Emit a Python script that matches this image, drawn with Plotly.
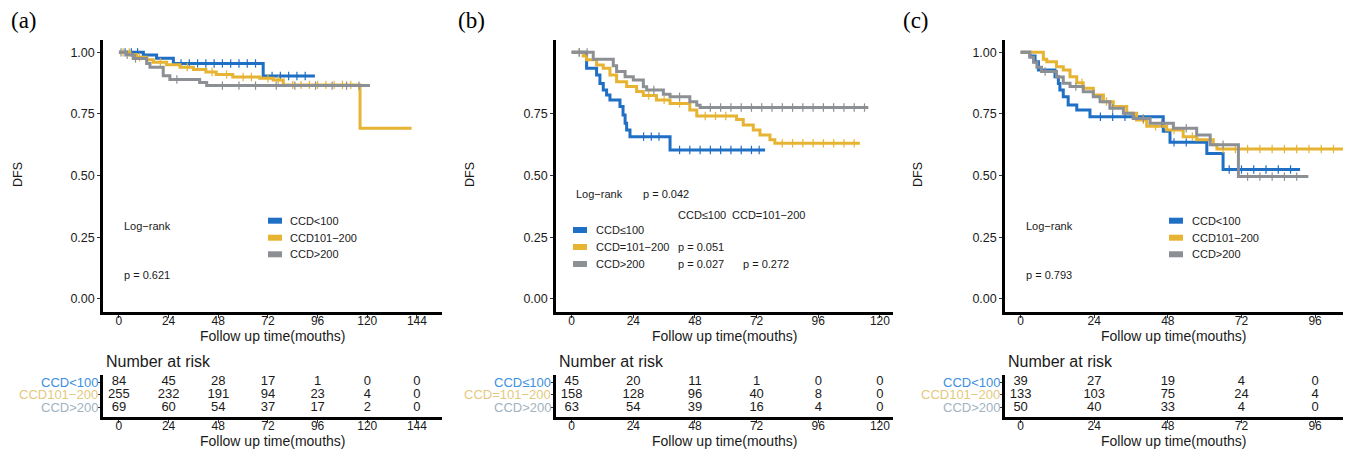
import plotly.graph_objects as go

# ---------------- data ----------------
GROUPS_A = ["CCD<100", "CCD101−200", "CCD>200"]
GROUPS_B = ["CCD≤100", "CCD=101−200", "CCD>200"]
GROUPS_C = ["CCD<100", "CCD101−200", "CCD>200"]

# Panel (a) KM steps (time in months, DFS after the step)
A_T_LOW = [0, 11.8, 18.2, 26.3, 69.7, 94.7]
A_S_LOW = [1.0, 0.989, 0.976, 0.955, 0.904, 0.904]
A_T_MID = [0, 5.3, 8.5, 13.4, 16.6, 23, 29.5, 36, 42, 47, 55, 68, 74.6, 79.4, 116.5, 141.4]
A_S_MID = [1.0, 0.99, 0.98, 0.97, 0.96, 0.95, 0.94, 0.93, 0.92, 0.91, 0.90, 0.895, 0.888, 0.868, 0.692, 0.692]
A_T_HIGH = [0, 3.7, 6.9, 13.4, 15.0, 21.4, 24.6, 39, 42.4, 121.3]
A_S_HIGH = [1.0, 0.99, 0.975, 0.955, 0.94, 0.905, 0.89, 0.878, 0.865, 0.865]
A_CENS_LOW = [3, 6, 9, 30, 34, 38, 42, 46, 50, 54, 58, 62, 66, 74, 78, 82, 86, 90]
A_CENS_MID = [2, 5, 10, 20, 33, 45, 52, 60, 64, 72, 77, 84, 88, 92, 96, 100, 104, 108, 112]
A_CENS_HIGH = [1, 4, 8, 28, 50, 58, 66, 76, 85, 95, 103, 110, 116]

# Panel (b)
B_T_LOW = [0, 5.8, 9.7, 11, 12.3, 13.6, 14.9, 18.8, 20, 20.8, 21.4, 22.7, 38.3, 75.3]
B_S_LOW = [1.0, 0.935, 0.908, 0.874, 0.847, 0.827, 0.807, 0.78, 0.746, 0.712, 0.685, 0.658, 0.604, 0.604]
B_T_MID = [0, 4.5, 5.8, 9.7, 12.3, 14.9, 17.5, 21.4, 25.3, 27.9, 33, 38.3, 46, 48.7, 64.2, 66.8, 70.7, 73.3, 77.2, 79.1, 112.2]
B_S_MID = [1.0, 0.985, 0.97, 0.949, 0.935, 0.908, 0.881, 0.861, 0.841, 0.825, 0.807, 0.793, 0.766, 0.742, 0.728, 0.705, 0.685, 0.665, 0.645, 0.631, 0.631]
B_T_HIGH = [0, 8.4, 16.2, 17.5, 20.8, 24, 27.9, 29.2, 35.7, 38.3, 46, 48.7, 50, 115.5]
B_S_HIGH = [1.0, 0.972, 0.946, 0.922, 0.901, 0.888, 0.86, 0.847, 0.83, 0.82, 0.80, 0.785, 0.776, 0.776]
B_CENS_LOW = [3, 28, 31, 34, 42, 46, 50, 54, 58, 62, 66, 70, 73]
B_CENS_MID = [3, 30, 36, 42, 52, 56, 60, 82, 86, 90, 94, 98, 102, 106, 110]
B_CENS_HIGH = [3, 6, 32, 42, 54, 58, 62, 66, 70, 74, 78, 82, 86, 90, 94, 98, 102, 106, 110, 114]

# Panel (c)
C_T_LOW = [0, 3, 4.7, 5.8, 11.2, 12.3, 12.8, 13.9, 15.5, 18.3, 22.6, 46.5, 48.7, 60.7, 66, 91.1]
C_S_LOW = [1.0, 0.985, 0.962, 0.928, 0.901, 0.874, 0.847, 0.82, 0.786, 0.766, 0.739, 0.68, 0.635, 0.59, 0.525, 0.525]
C_T_MID = [0, 7.4, 8.5, 11.7, 13.9, 16.1, 18.3, 20.4, 23.7, 27, 30.2, 34.6, 37.8, 41.1, 47.6, 53, 57.4, 62.8, 64, 105.2]
C_S_MID = [1.0, 0.972, 0.962, 0.942, 0.928, 0.901, 0.877, 0.854, 0.827, 0.80, 0.78, 0.753, 0.726, 0.70, 0.685, 0.658, 0.645, 0.625, 0.608, 0.608]
C_T_HIGH = [0, 3, 4.2, 5.3, 6.8, 11.7, 13.9, 16.1, 20.4, 23.7, 25.9, 29.1, 33.5, 36.7, 42.2, 49.8, 57.4, 61.8, 71, 93.8]
C_S_HIGH = [1.0, 0.98, 0.96, 0.94, 0.922, 0.90, 0.875, 0.861, 0.84, 0.82, 0.80, 0.773, 0.753, 0.732, 0.712, 0.692, 0.665, 0.625, 0.496, 0.496]
C_CENS_LOW = [26, 30, 34, 38, 50, 54, 68, 72, 76, 80, 84, 88]
C_CENS_MID = [20, 28, 40, 44, 50, 56, 66, 70, 74, 78, 82, 86, 90, 94, 98, 102]
C_CENS_HIGH = [8, 18, 30, 40, 46, 54, 66, 74, 78, 82, 86, 90]

# Numbers at risk
A_TIMES = [0, 24, 48, 72, 96, 120, 144]
A_RISK_LOW = [84, 45, 28, 17, 1, 0, 0]
A_RISK_MID = [255, 232, 191, 94, 23, 4, 0]
A_RISK_HIGH = [69, 60, 54, 37, 17, 2, 0]
B_TIMES = [0, 24, 48, 72, 96, 120]
B_RISK_LOW = [45, 20, 11, 1, 0, 0]
B_RISK_MID = [158, 128, 96, 40, 8, 0]
B_RISK_HIGH = [63, 54, 39, 16, 4, 0]
C_TIMES = [0, 24, 48, 72, 96]
C_RISK_LOW = [39, 27, 19, 4, 0]
C_RISK_MID = [133, 103, 75, 24, 4]
C_RISK_HIGH = [50, 40, 33, 4, 0]

Y_TICKS = [0, 0.25, 0.5, 0.75, 1.0]
Y_TICKS_B = [0, 0.25, 0.5, 0.75]

# ---------------- style / layout ----------------
W, H = 1347, 451
FONT = "Arial, 'Liberation Sans', sans-serif"
SERIF = "'Times New Roman', 'Liberation Serif', serif"
COLORS = ["#1f6fc5", "#e6b432", "#8c8f94"]
LBL_COLORS = ["#3d8fe0", "#e3c97f", "#9fb3c2"]
TXT = "#1a1a1a"


def px(x):
    return x / W


def py(y):
    return 1 - y / H


def step_value(ts, ss, t):
    v = ss[0]
    for ti, si in zip(ts, ss):
        if ti <= t:
            v = si
    return v


panels = [
    dict(name="(a)", groups=GROUPS_A,
         curves=[(A_T_LOW, A_S_LOW, A_CENS_LOW), (A_T_MID, A_S_MID, A_CENS_MID), (A_T_HIGH, A_S_HIGH, A_CENS_HIGH)],
         times=A_TIMES, risk=[A_RISK_LOW, A_RISK_MID, A_RISK_HIGH], yt=Y_TICKS,
         xd=(103, 442), xr=(-7.7, 156.1), lab_x=9, dfs_x=18, title_x=273),
    dict(name="(b)", groups=GROUPS_B,
         curves=[(B_T_LOW, B_S_LOW, B_CENS_LOW), (B_T_MID, B_S_MID, B_CENS_MID), (B_T_HIGH, B_S_HIGH, B_CENS_HIGH)],
         times=B_TIMES, risk=[B_RISK_LOW, B_RISK_MID, B_RISK_HIGH], yt=Y_TICKS_B,
         xd=(556, 893), xr=(-6.1, 125.1), lab_x=456, dfs_x=470, title_x=725),
    dict(name="(c)", groups=GROUPS_C,
         curves=[(C_T_LOW, C_S_LOW, C_CENS_LOW), (C_T_MID, C_S_MID, C_CENS_MID), (C_T_HIGH, C_S_HIGH, C_CENS_HIGH)],
         times=C_TIMES, risk=[C_RISK_LOW, C_RISK_MID, C_RISK_HIGH], yt=Y_TICKS,
         xd=(1005, 1343), xr=(-5.1, 105.1), lab_x=901, dfs_x=918, title_x=1174),
]

KM_Y = (40, 312)
KM_YR = (-0.053, 1.05)
RISK_Y = (375, 417)
RISK_YR = (0.255, 3.55)

fig = go.Figure()
annotations = []
shapes = []
layout_axes = {}

for i, p in enumerate(panels):
    kx = "x" if i == 0 else f"x{i + 1}"
    ky = "y" if i == 0 else f"y{i + 1}"
    rx = f"x{i + 4}"
    ry = f"y{i + 4}"
    # KM curves
    for g, (ts, ss, cens) in enumerate(p["curves"]):
        fig.add_trace(go.Scatter(x=ts, y=ss, mode="lines", line=dict(color=COLORS[g], width=3, shape="hv"),
                                 xaxis=kx, yaxis=ky, showlegend=False, hoverinfo="skip"))
        cy = [step_value(ts, ss, t) for t in cens]
        fig.add_trace(go.Scatter(x=cens, y=cy, mode="markers",
                                 marker=dict(symbol="line-ns-open", size=6, color=COLORS[g],
                                             line=dict(color=COLORS[g], width=1.2)),
                                 xaxis=kx, yaxis=ky, showlegend=False, hoverinfo="skip"))
    # risk table
    for g, row in enumerate(p["risk"]):
        fig.add_trace(go.Scatter(x=p["times"], y=[3 - g] * len(row), mode="text", text=[str(v) for v in row],
                                 textfont=dict(family=FONT, size=13, color=TXT), textposition="middle center",
                                 xaxis=rx, yaxis=ry, showlegend=False, hoverinfo="skip", cliponaxis=False))
        annotations.append(dict(x=px(p["xd"][0] - 3), y=py(382 + 12.75 * g), xref="paper", yref="paper",
                                text=p["groups"][g], showarrow=False, xanchor="right", yanchor="middle",
                                font=dict(family=FONT, size=13, color=LBL_COLORS[g])))
    xdom = [px(p["xd"][0]), px(p["xd"][1])]
    common_x = dict(domain=xdom, range=list(p["xr"]), showline=True, linewidth=2.5, linecolor="black",
                    ticks="outside", ticklen=3, tickwidth=1, tickcolor="#333", tickvals=p["times"],
                    ticktext=[str(t) for t in p["times"]], showgrid=False, zeroline=False,
                    ticklabelstandoff=-7,
                    tickfont=dict(family=FONT, size=12, color=TXT))
    layout_axes["xaxis" if i == 0 else f"xaxis{i + 1}"] = dict(common_x, anchor=ky)
    layout_axes[f"xaxis{i + 4}"] = dict(common_x, anchor=ry)
    layout_axes["yaxis" if i == 0 else f"yaxis{i + 1}"] = dict(
        domain=[py(KM_Y[1]), py(KM_Y[0])], range=list(KM_YR), anchor=kx, showline=True, linewidth=2.5,
        linecolor="black", ticks="outside", ticklen=3, tickwidth=1, tickcolor="#333",
        tickvals=p["yt"], ticktext=[f"{v:.2f}" for v in p["yt"]], showgrid=False, zeroline=False,
        tickfont=dict(family=FONT, size=12.5, color=TXT))
    layout_axes[f"yaxis{i + 4}"] = dict(
        domain=[py(RISK_Y[1]), py(RISK_Y[0])], range=list(RISK_YR), anchor=rx, showline=True, linewidth=2.5,
        linecolor="black", ticks="outside", ticklen=2, tickwidth=1, tickcolor="#333",
        tickvals=[1, 2, 3], ticktext=["", "", ""], showgrid=False, zeroline=False)

    # panel label, axis titles
    annotations.append(dict(x=px(p["lab_x"]), y=py(21), xref="paper", yref="paper", text=p["name"],
                            showarrow=False, xanchor="left", yanchor="middle",
                            font=dict(family=SERIF, size=23, color="black")))
    annotations.append(dict(x=px(p["dfs_x"]), y=py(175), xref="paper", yref="paper", text="DFS", textangle=-90,
                            showarrow=False, xanchor="center", yanchor="middle",
                            font=dict(family=FONT, size=12.5, color=TXT)))
    for ty in (336, 441):
        annotations.append(dict(x=px(p["title_x"]), y=py(ty), xref="paper", yref="paper",
                                text="Follow up time(mouths)", showarrow=False, xanchor="center",
                                yanchor="middle", font=dict(family=FONT, size=14, color=TXT)))
    annotations.append(dict(x=px(p["xd"][0] + 1), y=py(361), xref="paper", yref="paper", text="Number at risk",
                            showarrow=False, xanchor="left", yanchor="middle",
                            font=dict(family=FONT, size=16, color=TXT)))


def add_text(x, y, text, size=11):
    annotations.append(dict(x=px(x), y=py(y), xref="paper", yref="paper", text=text, showarrow=False,
                            xanchor="left", yanchor="middle", font=dict(family=FONT, size=size, color=TXT)))


def add_legend(x_sw, x_txt, rows, groups):
    for g, yy in enumerate(rows):
        shapes.append(dict(type="rect", xref="paper", yref="paper", x0=px(x_sw), x1=px(x_sw + 14),
                           y0=py(yy + 3), y1=py(yy - 3), fillcolor=COLORS[g], line=dict(width=0)))
        add_text(x_txt, yy, groups[g])


# Panel (a) annotations
add_text(122, 226, "Log−rank")
add_text(122, 275, "p = 0.621")
add_legend(268, 288, [220.7, 237.7, 254.3], GROUPS_A)
# Panel (b)
add_text(574, 194, "Log−rank")
add_text(641, 194, "p = 0.042")
add_text(676, 215, "CCD≤100")
add_text(730, 215, "CCD=101−200")
add_legend(573, 594, [230, 247, 264], GROUPS_B)
add_text(676, 247, "p = 0.051")
add_text(676, 264, "p = 0.027")
add_text(741, 264, "p = 0.272")
# Panel (c)
add_text(1024, 226, "Log−rank")
add_text(1024, 275, "p = 0.793")
add_legend(1169, 1190, [220.7, 237.7, 254.3], GROUPS_C)

fig.update_layout(width=W, height=H, margin=dict(l=0, r=0, t=0, b=0), paper_bgcolor="white",
                  plot_bgcolor="white", showlegend=False, annotations=annotations, shapes=shapes,
                  font=dict(family=FONT), **layout_axes)

fig.write_html("out.html", config={"displayModeBar": False},
               post_script="document.body.style.margin='0';document.body.style.overflow='hidden';")
